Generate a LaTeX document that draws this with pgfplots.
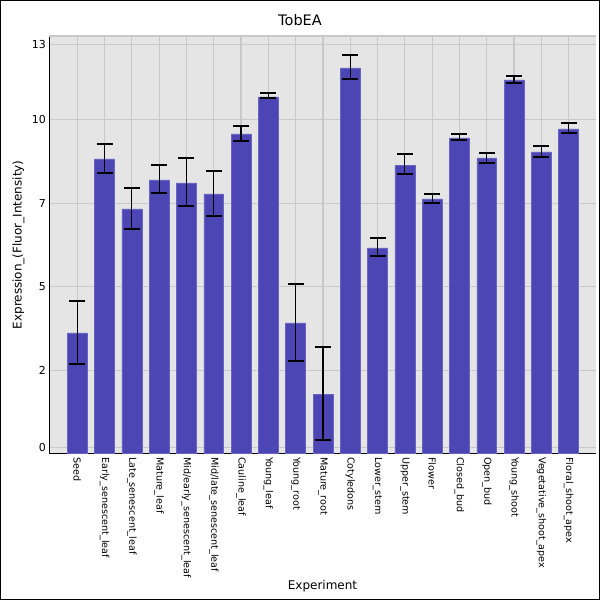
\documentclass[border=0pt]{standalone}
\usepackage{pgfplots}
\pgfplotsset{compat=1.18}
\usepackage{pgfplotstable}
\usepackage{fontspec}
\setmainfont{DejaVu Sans}
\definecolor{barcol}{RGB}{75,70,180}
\definecolor{baredge}{RGB}{105,100,195}
\definecolor{bgcol}{RGB}{229,229,229}
\definecolor{gridcol}{RGB}{200,200,200}
\pgfplotstableread{
x y ep em
0 3.757 0.996 0.965
1 9.172 0.467 0.426
2 7.616 0.654 0.613
3 8.519 0.457 0.414
4 8.425 0.769 0.716
5 8.083 0.725 0.694
6 9.950 0.259 0.218
7 11.102 0.115 0.041
8 4.068 1.223 1.183
9 1.858 1.463 1.441
10 12.004 0.405 0.351
11 6.402 0.321 0.258
12 8.985 0.333 0.280
13 7.927 0.165 0.115
14 9.826 0.115 0.063
15 9.203 0.156 0.146
16 11.631 0.124 0.094
17 9.390 0.187 0.156
18 10.106 0.186 0.125
}\datatable
\begin{document}
\begin{tikzpicture}
\useasboundingbox (0,0) rectangle (600pt,600pt);
\fill[white] (0,0) rectangle (600pt,600pt);
\begin{axis}[
  at={(49.3pt,146.3pt)}, anchor=south west,
  scale only axis, width=546.4pt, height=417.7pt,
  xmin=-1.025, xmax=18.99, ymin=0, ymax=13,
  axis lines*=left,
  axis line style={black, line width=1pt},
  axis background/.style={fill=bgcol},
  xtick={0,...,18},
  xticklabels={Seed, Early\_senescent\_leaf, Late\_senescent\_leaf, Mature\_leaf, Mid/early\_senescent\_leaf, Mid/late\_senescent\_leaf, Cauline\_leaf, Young\_leaf, Young\_root, Mature\_root, Cotyledons, Lower\_stem, Upper\_stem, Flower, Closed\_bud, Open\_bud, Young\_shoot, Vegetative\_shoot\_apex, Floral\_shoot\_apex},
  ytick={0.2,2.6,5.2,7.78,10.4,12.74},
  yticklabels={0,2,5,7,10,13},
  extra y ticks={13}, extra y tick labels={},
  extra y tick style={grid=major},
  major tick length=0pt,
  grid=major,
  major grid style={gridcol, line width=1.2pt},
  /pgf/number format/assume math mode=true,
  xticklabel style={rotate=-90, anchor=west, font=\fontsize{9.6}{10}\selectfont},
  yticklabel style={font=\fontsize{11}{12}\selectfont},
  xlabel={Experiment},
  ylabel={Expression\_(Fluor\_Intensity)},
  label style={font=\fontsize{12}{14}\selectfont},
  xlabel style={at={(axis description cs:0.5,0)}, anchor=base, yshift=-135.3pt},
  ylabel style={at={(axis description cs:-0.0505,0.5)}, anchor=base},
]
\addplot[ybar, bar width=0.73, fill=barcol, draw=baredge, line width=0.6pt,
  error bars/.cd, y dir=both, y explicit,
  error bar style={black, line width=1.2pt},
  error mark options={rotate=90, mark size=8pt, line width=1.8pt, black}]
  table[x=x, y=y, y error plus=ep, y error minus=em]{\datatable};
\end{axis}
\node[anchor=base, font=\fontsize{14.5}{16}\selectfont] at (300pt,574pt) {TobEA};
\draw[black, line width=2.5pt] (0,0) rectangle (600pt,600pt);
\end{tikzpicture}
\end{document}
